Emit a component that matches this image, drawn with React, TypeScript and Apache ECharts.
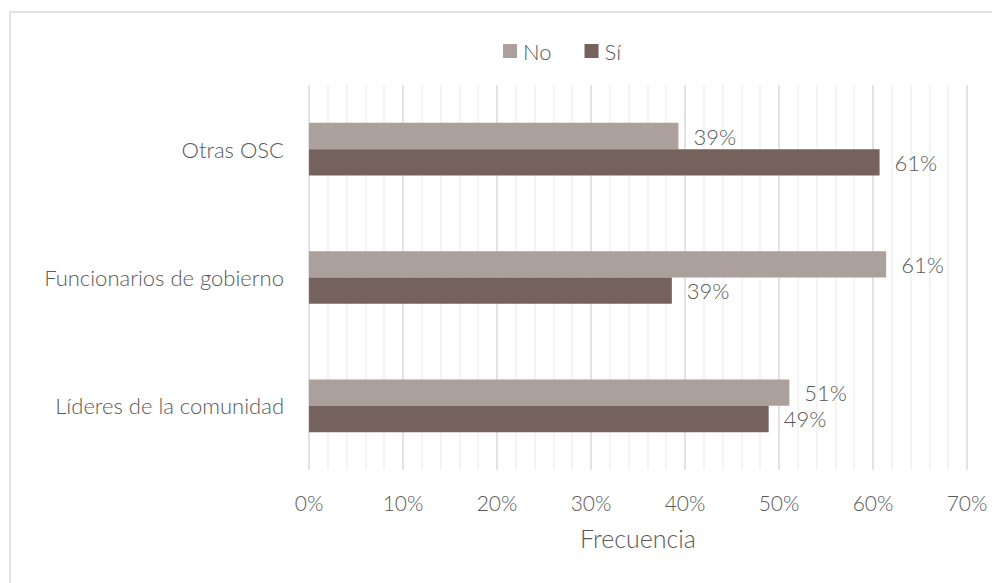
import React, { useEffect, useRef } from "react";
import * as echarts from "echarts";

const categories = ["Otras OSC", "Funcionarios de gobierno", "Líderes de la comunidad"];
const seriesNames = ["No", "Sí"];
const noValues = [39.3, 61.4, 51.1];
const siValues = [60.7, 38.6, 48.9];
const xTicks = { min: 0, max: 70, interval: 10 };
const axisTitle = "Frecuencia";

const FONT = "Lato, 'Open Sans', sans-serif";
const TEXT = "#595959";
const FW = 300;

export default function App() {
  const ref = useRef<HTMLDivElement>(null);
  useEffect(() => {
    if (!ref.current) return;
    const chart = echarts.init(ref.current, undefined, { renderer: "svg" });
    const label = {
      show: true,
      position: "right",
      distance: 15,
      color: TEXT,
      fontFamily: FONT,
      fontWeight: FW,
      fontSize: 22,
      formatter: (p: any) => Math.round(p.value) + "%",
    };
    chart.setOption({
      animation: false,
      backgroundColor: "#ffffff",
      textStyle: { fontFamily: FONT, fontWeight: FW, color: TEXT },
      graphic: [
        {
          type: "rect",
          shape: { x: 10, y: 12, width: 1000, height: 600 },
          style: { fill: "none", stroke: "#d9d9d9", lineWidth: 1.5 },
          silent: true,
        },
      ],
      legend: {
        data: seriesNames,
        left: 503,
        top: 40,
        padding: 0,
        itemWidth: 14,
        itemHeight: 14,
        itemGap: 33,
        icon: "rect",
        textStyle: { fontFamily: FONT, fontWeight: FW, fontSize: 22, color: TEXT, padding: [0, 0, 0, 1] },
      },
      grid: { left: 309, right: 25, top: 85, bottom: 113, containLabel: false },
      xAxis: {
        type: "value",
        min: xTicks.min,
        max: xTicks.max,
        interval: xTicks.interval,
        name: axisTitle,
        nameLocation: "middle",
        nameGap: 55,
        nameTextStyle: { fontFamily: FONT, fontWeight: FW, fontSize: 25, color: TEXT },
        axisLine: { show: false },
        axisTick: { show: false },
        axisLabel: {
          formatter: (v: number) => v + "%",
          fontFamily: FONT,
          fontWeight: FW,
          fontSize: 21,
          color: TEXT,
          margin: 22,
        },
        splitLine: { show: true, lineStyle: { color: "#d9d9d9", width: 1.5 } },
        minorTick: { show: false, splitNumber: 5 },
        minorSplitLine: { show: true, lineStyle: { color: "#f0f0f0", width: 1.5 } },
      },
      yAxis: {
        type: "category",
        data: categories,
        inverse: true,
        axisLine: { show: false },
        axisTick: { show: false },
        axisLabel: { fontFamily: FONT, fontWeight: FW, fontSize: 22, color: TEXT, margin: 25 },
        splitLine: { show: false },
      },
      series: [
        {
          name: seriesNames[0],
          type: "bar",
          data: noValues,
          itemStyle: { color: "#aba09b" },
          barGap: "0%",
          barCategoryGap: "59%",
          label,
        },
        {
          name: seriesNames[1],
          type: "bar",
          data: siValues,
          itemStyle: { color: "#76625c" },
          barGap: "0%",
          barCategoryGap: "59%",
          label,
        },
      ],
    });
    return () => chart.dispose();
  }, []);
  return (
    <div
      ref={ref}
      style={{ position: "fixed", left: 0, top: 0, width: 992, height: 583, background: "#fff" }}
    />
  );
}
